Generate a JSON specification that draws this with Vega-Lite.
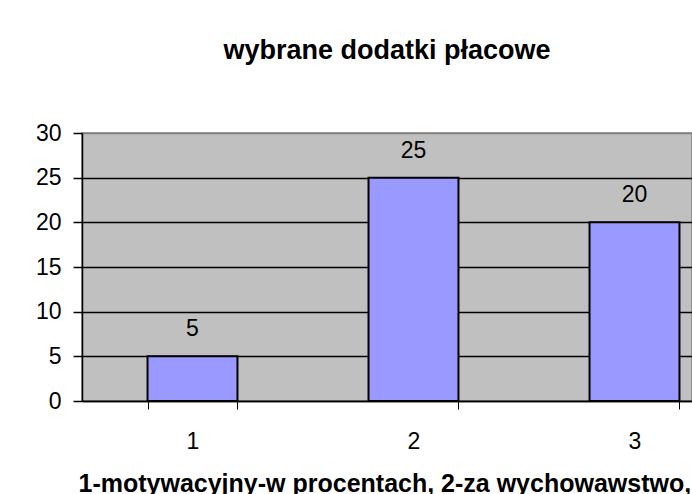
{
  "$schema": "https://vega.github.io/schema/vega-lite/v6.json",
  "autosize": "none",
  "width": 610,
  "height": 268,
  "padding": {"left": 82, "top": 133, "right": 0, "bottom": 93},
  "background": "white",
  "title": {
    "text": "wybrane dodatki płacowe",
    "font": "Liberation Sans",
    "fontSize": 27,
    "fontWeight": "bold",
    "color": "black",
    "anchor": "middle",
    "baseline": "alphabetic",
    "offset": 36
  },
  "config": {
    "view": {"fill": "#C0C0C0", "stroke": "#808080", "strokeWidth": 1.5},
    "font": "Liberation Sans"
  },
  "data": {
    "values": [
      {"kategoria": "1", "wartosc": 5},
      {"kategoria": "2", "wartosc": 25},
      {"kategoria": "3", "wartosc": 20}
    ]
  },
  "encoding": {
    "x": {
      "field": "kategoria",
      "type": "ordinal",
      "scale": {"range": [0, 663], "paddingInner": 0.593, "paddingOuter": 0.2965},
      "axis": {
        "title": "1-motywacyjny-w procentach, 2-za wychowawstwo, 3-funkcyjny",
        "titleFont": "Liberation Sans",
        "titleFontSize": 25,
        "titleFontWeight": "bold",
        "titleColor": "black",
        "titleAnchor": "start",
        "titleAlign": "left",
        "titleBaseline": "alphabetic",
        "titleX": -4,
        "titleY": 90,
        "labelAngle": 0,
        "labelFontSize": 23,
        "labelColor": "black",
        "labelPadding": 21,
        "tickBand": "extent",
        "tickSize": 8,
        "tickColor": "black",
        "tickWidth": 1,
        "domainColor": "black",
        "domainWidth": 1.5,
        "grid": false
      }
    },
    "y": {
      "field": "wartosc",
      "type": "quantitative",
      "scale": {"domain": [0, 30]},
      "axis": {
        "title": null,
        "values": [0, 5, 10, 15, 20, 25, 30],
        "labelFontSize": 23,
        "labelColor": "black",
        "labelPadding": 12,
        "tickSize": 9,
        "tickColor": "black",
        "tickWidth": 1.5,
        "domainColor": "black",
        "domainWidth": 1.5,
        "grid": true,
        "gridColor": {"condition": {"test": "datum.value == 30", "value": "#808080"}, "value": "black"},
        "gridWidth": 1.5,
        "gridOpacity": 1
      }
    }
  },
  "layer": [
    {
      "mark": {"type": "bar", "fill": "#9999FF", "stroke": "black", "strokeWidth": 2, "clip": true}
    },
    {
      "mark": {"type": "text", "fontSize": 23, "color": "black", "baseline": "alphabetic", "dy": -20, "clip": true},
      "encoding": {"text": {"field": "wartosc", "type": "quantitative"}}
    }
  ]
}
